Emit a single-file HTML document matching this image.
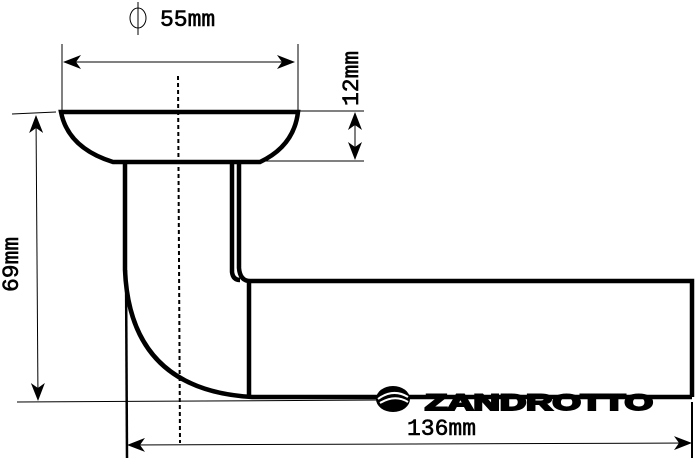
<!DOCTYPE html>
<html><head><style>body{margin:0;background:#fff}svg{display:block}</style></head><body>
<svg width="696" height="459" viewBox="0 0 696 459" xmlns="http://www.w3.org/2000/svg" font-family="Liberation Mono, monospace">
<defs><marker id="a" markerWidth="18" markerHeight="14" refX="17" refY="7" orient="auto-start-reverse" markerUnits="userSpaceOnUse"><path d="M0,0 L18,7 L0,14 L5,7z" fill="#000"/></marker></defs>
<g stroke="#000" fill="none" stroke-width="1">
<line x1="62" y1="44" x2="62" y2="110"/><line x1="298" y1="44" x2="298" y2="110"/>
<line x1="64" y1="62" x2="294" y2="62" marker-start="url(#a)" marker-end="url(#a)"/>
<line x1="300" y1="111" x2="364" y2="111"/><line x1="222" y1="161" x2="364" y2="161"/>
<line x1="355" y1="113" x2="355" y2="159" marker-start="url(#a)" marker-end="url(#a)"/>
<line x1="12" y1="114" x2="56" y2="112"/><line x1="17" y1="402" x2="380" y2="400"/>
<line x1="36" y1="116" x2="38" y2="400" marker-start="url(#a)" marker-end="url(#a)"/>
<line x1="128" y1="445" x2="691" y2="443" marker-start="url(#a)" marker-end="url(#a)"/>
<line x1="692" y1="402" x2="692" y2="458" stroke-width="2"/>
<line x1="178" y1="76" x2="180" y2="443" stroke-width="2" stroke-dasharray="4,3"/>
<line x1="138" y1="2" x2="138" y2="35"/><ellipse cx="138" cy="18" rx="8" ry="10"/>
</g>
<g stroke="#000" fill="none" stroke-width="4.5">
<path d="M61,112 L298,112 Q294,146 260,162 L113,162 Q68,148 61,112z"/>
<path d="M125,162 L125,270 Q130,390 252,397 L692,397"/>
<path d="M232,162 L232,272 Q233,280 240,280"/>
<path d="M239,162 L239,268 Q240,281 250,281 L692,281 L692,397"/>
<line x1="249" y1="281" x2="249" y2="397"/>
</g>
<line x1="126" y1="270" x2="127" y2="458" stroke="#000" stroke-width="2.5"/>
<g stroke="#000" stroke-width="0.6">
<text x="160" y="26" font-size="23">55mm</text>
<text transform="translate(358,106) rotate(-90)" font-size="23">12mm</text>
<text transform="translate(18,292) rotate(-90)" font-size="23">69mm</text>
<text x="407" y="435" font-size="23">136mm</text>
</g>
<ellipse cx="393" cy="399" rx="17" ry="13" fill="#000"/>
<path d="M378,399 Q393,388 408,397 M380,403 Q395,394 408,402" stroke="#fff" stroke-width="2" fill="none"/>
<text x="425" y="410" font-size="22" font-weight="bold" stroke="#000" stroke-width="2" font-family="Liberation Sans, sans-serif" textLength="228" lengthAdjust="spacingAndGlyphs">ZANDROTTO</text>
</svg>
</body></html>
